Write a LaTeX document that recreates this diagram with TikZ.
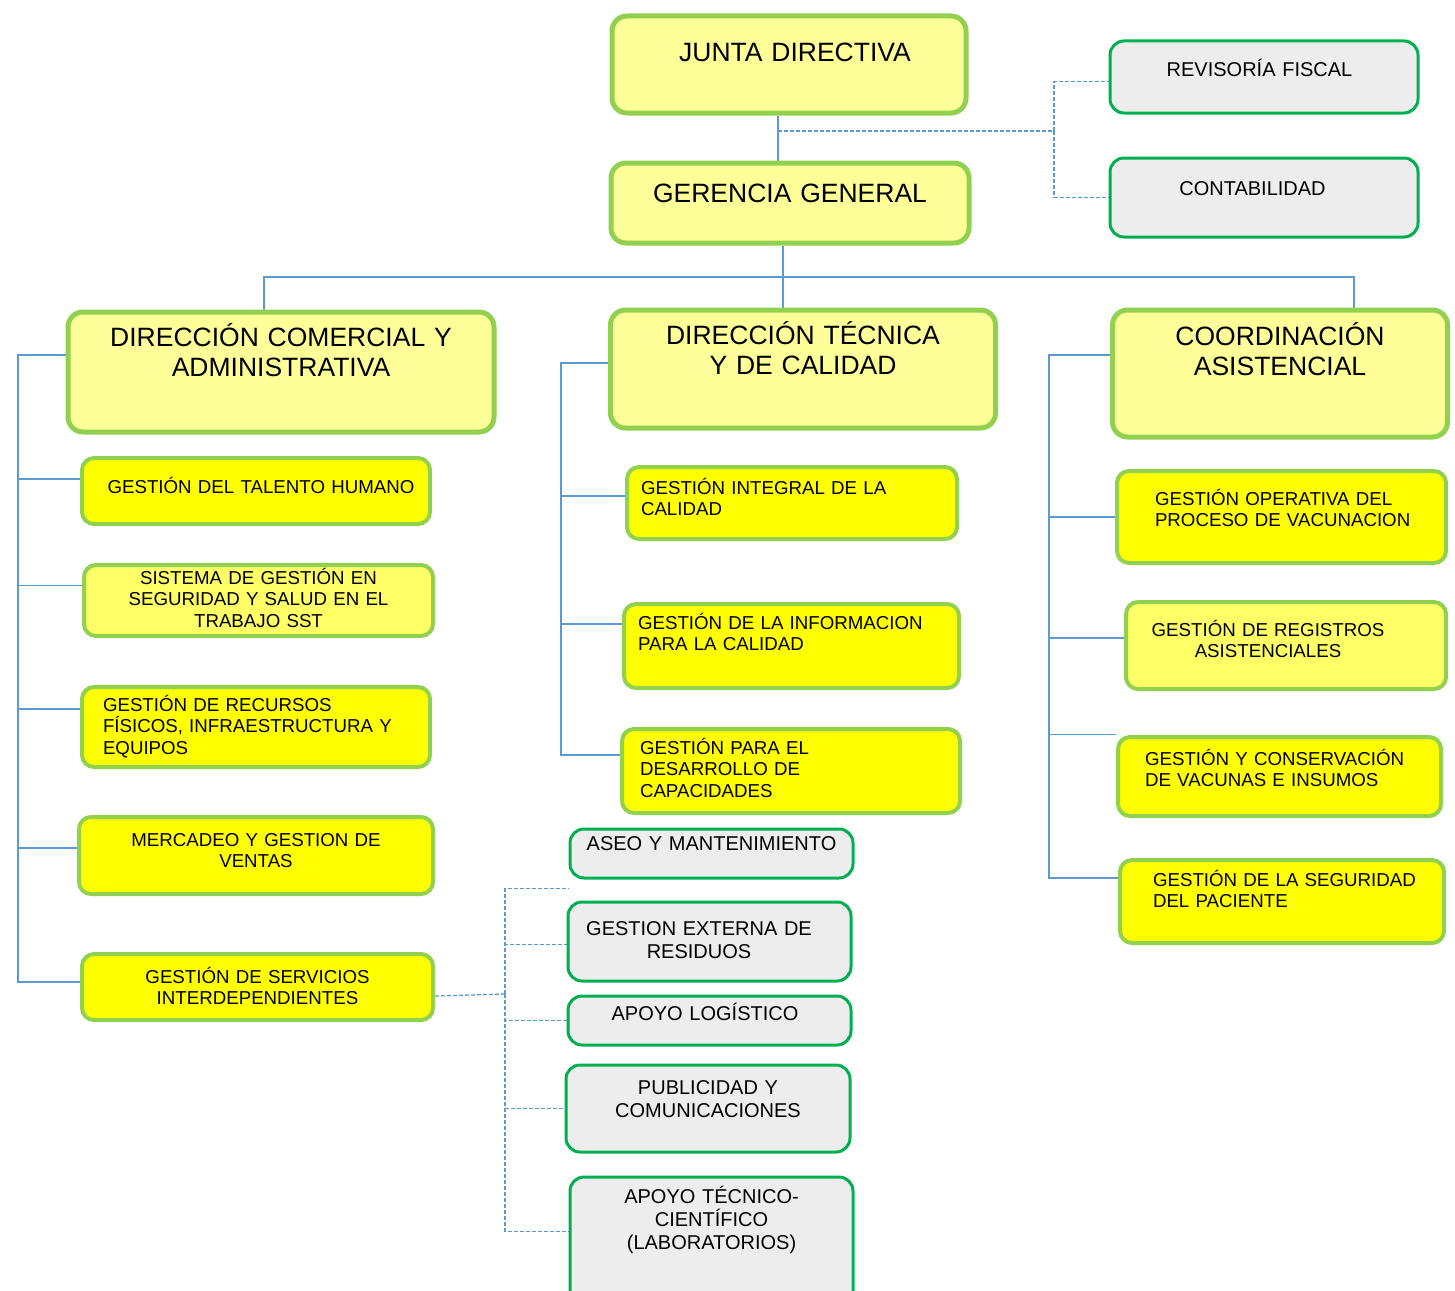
\documentclass[tikz,border=0pt]{standalone}
\usepackage{fontspec}
\setmainfont{Liberation Sans}
\usepackage{xcolor}
\usepackage{tikz}
\usetikzlibrary{calc, backgrounds}

\definecolor{leafgreen}{HTML}{92D050}
\definecolor{darkgreen}{HTML}{00B050}
\definecolor{paleyellow}{HTML}{FFFF99}
\definecolor{midyellow}{HTML}{FFFF66}
\definecolor{brightyellow}{HTML}{FFFF00}
\definecolor{softgray}{HTML}{EDEDED}
\definecolor{linkblue}{HTML}{5B9BD5}

\hyphenpenalty=10000
\exhyphenpenalty=10000

\tikzset{
    headbox/.style={draw=leafgreen, line width=5pt, fill=paleyellow, rounded corners=15pt,
        inner sep=0pt, align=center, anchor=north west, font=\fontsize{26.5}{30}\selectfont},
    areabox/.style={draw=leafgreen, line width=4pt, fill=brightyellow, rounded corners=12pt,
        inner sep=0pt, align=center, anchor=north west, font=\fontsize{18.7}{21.5}\selectfont},
    leftbox/.style={areabox, align=left},
    servbox/.style={draw=darkgreen, line width=3pt, fill=softgray, rounded corners=14pt,
        inner sep=0pt, align=center, anchor=north west, font=\fontsize{20}{23}\selectfont},
    link/.style={draw=linkblue, line width=1.3pt},
    dashlink/.style={link, dash pattern=on 4pt off 2pt}
}

\begin{document}
\begin{tikzpicture}[x=1pt, y=-1pt]

  \useasboundingbox (0,0) rectangle (1455,1290);

  % Top of the organisation
  \node[headbox, text width=354pt, text height=45pt, text depth=52pt] (junta) at (609.5,13.5) {\hspace*{12pt}JUNTA DIRECTIVA};
  \node[headbox, text width=358pt, text height=39pt, text depth=41pt] (gerencia) at (608.5,160.5) {GERENCIA GENERAL};

  % External support
  \node[servbox, text width=308pt, text height=35pt, text depth=37pt] (revisoria) at (1108.5,39.5) {\hspace*{-9pt}REVISORÍA FISCAL};
  \node[servbox, text width=308pt, text height=37pt, text depth=42pt] (contabilidad) at (1108.5,156.5) {\hspace*{-23pt}CONTABILIDAD};

  % Directions
  \node[headbox, text width=426pt, text height=34.5pt, text depth=85.5pt] (dircom) at (65.5,309.5) {DIRECCIÓN COMERCIAL Y\\ADMINISTRATIVA};
  \node[headbox, text width=385pt, text height=34pt, text depth=84pt] (dirtec) at (608,307.5) {DIRECCIÓN TÉCNICA\\Y DE CALIDAD};
  \node[headbox, text width=335pt, text height=35.5pt, text depth=91.5pt] (coord) at (1110,307.5) {COORDINACIÓN\\ASISTENCIAL};

  % Commercial and administrative areas
  \node[areabox, text width=348pt, text height=35pt, text depth=31pt] (talento) at (80,456) {\hspace*{10pt}GESTIÓN DEL TALENTO HUMANO};
  \node[areabox, fill=midyellow, text width=349pt, text height=19pt, text depth=52pt] (sst) at (82,563) {SISTEMA DE GESTIÓN EN\\SEGURIDAD Y SALUD EN EL\\TRABAJO SST};
  \node[leftbox, inner xsep=21pt, text width=306pt, text height=24pt, text depth=56pt] (recursos) at (80,685) {GESTIÓN DE RECURSOS\\FÍSICOS, INFRAESTRUCTURA Y\\EQUIPOS};
  \node[areabox, text width=354pt, text height=29pt, text depth=48pt] (mercadeo) at (77,815) {MERCADEO Y GESTION DE\\VENTAS};
  \node[areabox, text width=351pt, text height=29pt, text depth=37pt] (servicios) at (80,952) {GESTIÓN DE SERVICIOS\\INTERDEPENDIENTES};

  % Technical and quality areas
  \node[leftbox, inner xsep=14pt, text width=302pt, text height=27pt, text depth=45pt] (integral) at (625,465) {GESTIÓN INTEGRAL DE LA\\CALIDAD};
  \node[leftbox, inner xsep=14pt, text width=307pt, text height=25pt, text depth=59pt] (informacion) at (622,602) {GESTIÓN~DE~LA~INFORMACION\\PARA LA CALIDAD};
  \node[leftbox, inner xsep=18pt, text width=302pt, text height=25pt, text depth=59pt] (desarrollo) at (620,727) {GESTIÓN PARA EL\\DESARROLLO DE\\CAPACIDADES};

  % Interdependent services
  \node[servbox, text width=283pt, text height=21.5pt, text depth=27.5pt] (aseo) at (568.5,827.5) {ASEO Y MANTENIMIENTO};
  \node[servbox, text width=283pt, text height=33.5pt, text depth=45.5pt] (residuos) at (566.5,900.5) {\hspace*{-21pt}GESTION EXTERNA DE\\\hspace*{-21pt}RESIDUOS};
  \node[servbox, text width=283pt, text height=24.5pt, text depth=24.5pt] (logistico) at (566.5,994.5) {\hspace*{-9pt}APOYO LOGÍSTICO};
  \node[servbox, text width=284pt, text height=29.5pt, text depth=57.5pt] (publicidad) at (564.5,1063.5) {PUBLICIDAD Y\\COMUNICACIONES};
  \node[servbox, text width=283pt, text height=26.5pt, text depth=102pt] (laboratorios) at (568.5,1175.5) {APOYO TÉCNICO-\\CIENTÍFICO\\(LABORATORIOS)};

  % Care coordination areas
  \node[leftbox, inner xsep=38pt, text width=253pt, text height=34pt, text depth=58pt] (vacunacion) at (1115,469) {GESTIÓN~OPERATIVA~DEL\\PROCESO~DE~VACUNACION};
  \node[areabox, fill=midyellow, text width=320pt, text height=34pt, text depth=53pt] (registros) at (1124,600) {\hspace*{-36pt}GESTIÓN DE REGISTROS\\\hspace*{-36pt}ASISTENCIALES};
  \node[leftbox, inner xsep=27pt, text width=269pt, text height=28pt, text depth=51pt] (conservacion) at (1116,735) {GESTIÓN~Y~CONSERVACIÓN\\DE VACUNAS E INSUMOS};
  \node[leftbox, inner xsep=33pt, text width=258pt, text height=26pt, text depth=57pt] (seguridad) at (1118,858) {GESTIÓN~DE~LA~SEGURIDAD\\DEL PACIENTE};

  % Connectors, behind the boxes
  \begin{scope}[on background layer]
    \coordinate (jbus) at (778,131);
    \coordinate (fbus) at (1054,131);
    \draw[link] (jbus |- junta.south) -- (jbus |- gerencia.north);
    \draw[dashlink] (jbus) -- (fbus);
    \draw[dashlink] (fbus) |- ([yshift=-4.5pt]revisoria.west);
    \draw[dashlink] (fbus) |- (contabilidad.west);

    \coordinate (gbus) at (783,277);
    \coordinate (busl) at (264,277);
    \coordinate (busr) at (1354,277);
    \draw[link] (gbus |- gerencia.south) -- (gbus |- dirtec.north);
    \draw[link] (busl |- dircom.north) -- (busl) -- (busr) -- (busr |- coord.north);

    \coordinate (lbus) at (18,355);
    \draw[link] (lbus -| dircom.west) -- (lbus) |- ([yshift=5pt]servicios.west);
    \draw[link] (lbus) |- ([yshift=12pt]talento.west);
    \draw[link] (lbus) |- ([yshift=15pt]sst.west);
    \draw[link] (lbus) |- ([yshift=18pt]recursos.west);
    \draw[link] (lbus) |- ([yshift=7.5pt]mercadeo.west);

    \coordinate (mbus) at (561,363);
    \draw[link] (mbus -| dirtec.west) -- (mbus) |- ([yshift=16pt]desarrollo.west);
    \draw[link] (mbus) |- ([yshift=7pt]integral.west);
    \draw[link] (mbus) |- ([yshift=22pt]informacion.west);

    \coordinate (rbus) at (1049,355);
    \draw[link] (rbus -| coord.west) -- (rbus) |- ([yshift=23.5pt]seguridad.west);
    \draw[link] (rbus) |- (vacunacion.west);
    \draw[link] (rbus) |- ([yshift=7.5pt]registros.west);
    \draw[link] (rbus) |- ([yshift=42pt]conservacion.west);

    \coordinate (sbus) at (505,994);
    \draw[dashlink] ([yshift=-9pt]servicios.east) -- (sbus);
    \draw[dashlink] (sbus) |- ([yshift=-9pt]aseo.south west);
    \draw[dashlink] (sbus) |- ([yshift=-3pt]residuos.west);
    \draw[dashlink] (sbus) |- (logistico.west);
    \draw[dashlink] (sbus) |- (publicidad.west);
    \draw[dashlink] (sbus) |- ([yshift=10pt]laboratorios.west);
  \end{scope}

\end{tikzpicture}
\end{document}
